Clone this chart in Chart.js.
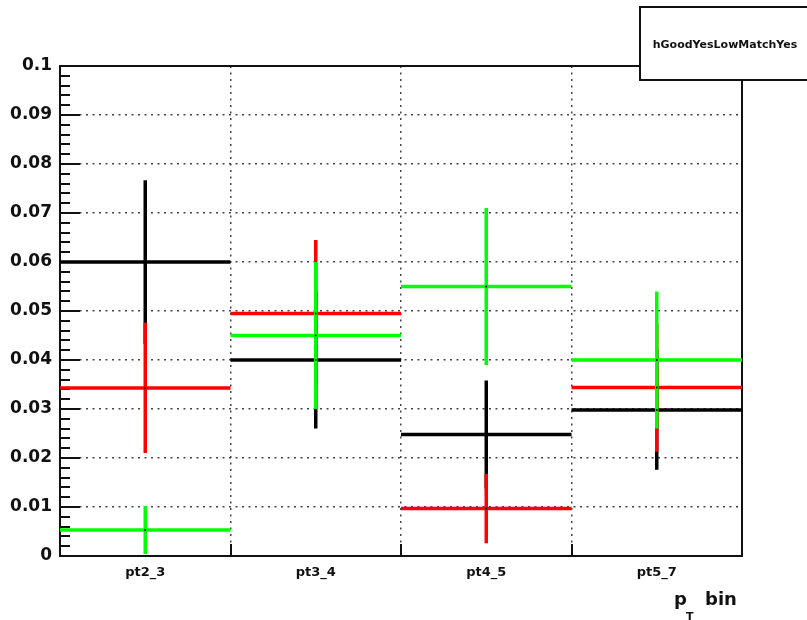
<!DOCTYPE html>
<html>
<head>
<meta charset="utf-8">
<script src="https://cdn.jsdelivr.net/npm/chart.js@4/dist/chart.umd.min.js"></script>
<style>
  html, body { margin: 0; padding: 0; background: #fff; }
  #wrap { width: 807px; height: 620px; }
</style>
</head>
<body>
<div id="wrap"><canvas id="c" width="807" height="620"></canvas></div>
<script>
// bins and values
const categories = ['pt2_3', 'pt3_4', 'pt4_5', 'pt5_7'];
const blackValues = [0.0600, 0.0400, 0.0248, 0.0298];
const blackErrors = [0.0167, 0.0140, 0.0110, 0.0122];
const redValues = [0.0343, 0.0495, 0.0097, 0.0344];
const redErrors = [0.0133, 0.0150, 0.0071, 0.0131];
const greenValues = [0.0053, 0.0450, 0.0550, 0.0400];
const greenErrors = [0.0049, 0.0150, 0.0160, 0.0140];
const yTicks = [0, 0.01, 0.02, 0.03, 0.04, 0.05, 0.06, 0.07, 0.08, 0.09, 0.1];
const histTitle = 'hGoodYesLowMatchYes';

const FONT = '"DejaVu Sans", sans-serif';

// horizontal bin-width segments, broken with null points
function binLines(values) {
    const pts = [];
    values.forEach((v, i) => {
        pts.push({x: i, y: v}, {x: i + 1, y: v}, {x: i + 1, y: null});
    });
    return pts;
}

// vertical error bars at bin centers
function errorBars(values, errors) {
    const pts = [];
    values.forEach((v, i) => {
        pts.push({x: i + 0.5, y: v - errors[i]}, {x: i + 0.5, y: v + errors[i]}, {x: i + 0.5, y: null});
    });
    return pts;
}

function centers(values) {
    return values.map((v, i) => ({x: i + 0.5, y: v}));
}

function lineSet(data, color, order) {
    return {
        type: 'line',
        data: data,
        borderColor: color,
        borderWidth: 3.5,
        borderCapStyle: 'butt',
        pointRadius: 0,
        spanGaps: false,
        tension: 0,
        order: order
    };
}

const series = [
    {values: blackValues, errors: blackErrors, color: '#000000', order: 6},
    {values: redValues, errors: redErrors, color: '#ff0000', order: 4},
    {values: greenValues, errors: greenErrors, color: '#00ff00', order: 2}
];

const datasets = [];
series.forEach(s => {
    datasets.push(lineSet(binLines(s.values), s.color, s.order + 1));
    datasets.push(lineSet(errorBars(s.values, s.errors), s.color, s.order));
});
// small center markers
datasets.push({
    type: 'scatter',
    data: centers(blackValues).concat(centers(redValues), centers(greenValues)),
    pointRadius: 1,
    pointBackgroundColor: '#000',
    pointBorderWidth: 0,
    order: 0
});

// frame, inner tick marks, title box and axis title
const rootStyle = {
    id: 'rootStyle',
    beforeDatasetsDraw(chart) {
        const {ctx, chartArea: a, scales: {x, y}} = chart;
        ctx.save();
        ctx.strokeStyle = '#111';
        ctx.lineWidth = 2;
        // y ticks: major every 0.01, minor every 0.002
        for (let i = 0; i <= 50; i++) {
            const py = Math.round(y.getPixelForValue(i * 0.002));
            const len = i % 5 === 0 ? 20 : 10;
            ctx.beginPath();
            ctx.moveTo(a.left, py);
            ctx.lineTo(a.left + len, py);
            ctx.stroke();
        }
        // x ticks at bin edges
        for (let i = 1; i < categories.length; i++) {
            const px = Math.round(x.getPixelForValue(i));
            ctx.beginPath();
            ctx.moveTo(px, a.bottom);
            ctx.lineTo(px, a.bottom - 12);
            ctx.stroke();
        }
        ctx.strokeRect(a.left, a.top, a.right - a.left, a.bottom - a.top);
        ctx.restore();
    },
    afterDraw(chart) {
        const {ctx} = chart;
        ctx.save();
        // title box
        ctx.fillStyle = '#fff';
        ctx.fillRect(640, 7, 180, 73);
        ctx.strokeStyle = '#111';
        ctx.lineWidth = 2;
        ctx.strokeRect(640, 7, 180, 73);
        ctx.fillStyle = '#111';
        ctx.font = 'bold 11px ' + FONT;
        ctx.textAlign = 'center';
        ctx.textBaseline = 'middle';
        ctx.fillText(histTitle, 725, 45);
        // axis title p_T bin
        ctx.textAlign = 'left';
        ctx.textBaseline = 'alphabetic';
        ctx.font = 'bold 18px ' + FONT;
        ctx.fillText('p', 674, 605);
        ctx.fillText('bin', 705, 605);
        ctx.font = 'bold 11px ' + FONT;
        ctx.fillText('T', 686, 620);
        ctx.restore();
    }
};

new Chart(document.getElementById('c'), {
    type: 'line',
    data: {datasets: datasets},
    options: {
        responsive: false,
        animation: false,
        events: [],
        layout: {padding: {left: 0, right: 65, top: 66, bottom: 0}},
        plugins: {legend: {display: false}, tooltip: {enabled: false}},
        scales: {
            x: {
                type: 'linear',
                min: 0,
                max: categories.length,
                afterFit: s => { s.height = 64; },
                afterBuildTicks: s => {
                    const t = [];
                    for (let i = 0; i <= categories.length * 2; i++) t.push({value: i / 2});
                    s.ticks = t;
                },
                ticks: {
                    autoSkip: false,
                    maxRotation: 0,
                    padding: 9,
                    color: '#111',
                    font: {family: FONT, size: 13, weight: 'bold'},
                    callback: v => (v % 1 === 0.5 ? categories[Math.floor(v)] : '')
                },
                grid: {
                    drawTicks: false,
                    lineWidth: 1.5,
                    color: c => {
                        const v = c.tick ? c.tick.value : 0;
                        return (v % 1 === 0 && v > 0 && v < categories.length) ? '#444' : 'rgba(0,0,0,0)';
                    }
                },
                border: {display: false, dash: [2, 4.5]}
            },
            y: {
                min: 0,
                max: 0.1,
                afterFit: s => { s.width = 60; },
                afterBuildTicks: s => { s.ticks = yTicks.map(v => ({value: v})); },
                ticks: {
                    padding: 8,
                    color: '#111',
                    font: {family: FONT, size: 17, weight: 'bold'},
                    callback: v => String(parseFloat(v.toFixed(2)))
                },
                grid: {
                    drawTicks: false,
                    lineWidth: 1.5,
                    color: c => {
                        const v = c.tick ? c.tick.value : 0;
                        return (v > 0.001 && v < 0.099) ? '#444' : 'rgba(0,0,0,0)';
                    }
                },
                border: {display: false, dash: [2, 4.5]}
            }
        }
    },
    plugins: [rootStyle]
});
</script>
</body>
</html>
